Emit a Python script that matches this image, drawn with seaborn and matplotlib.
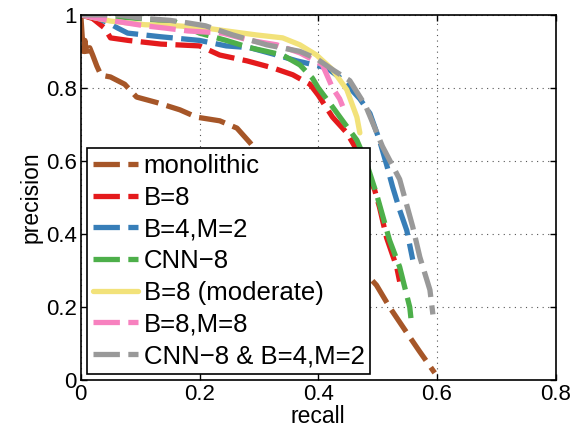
import matplotlib
matplotlib.use("Agg")
import matplotlib.pyplot as plt
import seaborn as sns

# precision / recall
mono_r = [0.0, 0.002, 0.004, 0.007, 0.01, 0.015, 0.02, 0.027, 0.034, 0.05, 0.074, 0.094, 0.128, 0.167,
          0.195, 0.234, 0.263, 0.285, 0.32, 0.36, 0.40, 0.44, 0.47, 0.498, 0.52, 0.549, 0.57, 0.596]
mono_p = [1.0, 0.95, 0.90, 0.93, 0.89, 0.91, 0.89, 0.86, 0.835, 0.83, 0.81, 0.775, 0.76, 0.74,
          0.72, 0.71, 0.69, 0.65, 0.58, 0.50, 0.43, 0.36, 0.31, 0.26, 0.20, 0.13, 0.08, 0.02]

b8_r = [0.0, 0.02, 0.04, 0.05, 0.08, 0.135, 0.2, 0.234, 0.28, 0.323, 0.357, 0.386, 0.40, 0.424,
        0.448, 0.465, 0.48, 0.495, 0.503, 0.515, 0.532, 0.537]
b8_p = [1.0, 0.99, 0.964, 0.937, 0.93, 0.92, 0.915, 0.89, 0.874, 0.855, 0.836, 0.81, 0.78, 0.72,
        0.677, 0.63, 0.58, 0.52, 0.474, 0.39, 0.31, 0.27]

b4m2_r = [0.0, 0.03, 0.05, 0.062, 0.079, 0.135, 0.2, 0.245, 0.285, 0.33, 0.364, 0.414, 0.435,
          0.453, 0.47, 0.487, 0.503, 0.515, 0.525, 0.537, 0.549, 0.559]
b4m2_p = [1.0, 0.99, 0.975, 0.964, 0.95, 0.94, 0.93, 0.915, 0.91, 0.89, 0.874, 0.855, 0.83,
          0.80, 0.77, 0.73, 0.657, 0.59, 0.53, 0.466, 0.41, 0.33]

cnn_r = [0.0, 0.1, 0.16, 0.2, 0.245, 0.285, 0.313, 0.34, 0.369, 0.39, 0.40, 0.424, 0.441, 0.465,
         0.48, 0.498, 0.52, 0.537, 0.554, 0.556]
cnn_p = [1.0, 0.99, 0.98, 0.95, 0.93, 0.91, 0.90, 0.89, 0.863, 0.827, 0.80, 0.748, 0.71, 0.657,
         0.60, 0.51, 0.383, 0.31, 0.20, 0.17]

mod_r = [0.0, 0.029, 0.05, 0.108, 0.163, 0.21, 0.25, 0.296, 0.34, 0.369, 0.397, 0.424, 0.448,
         0.465, 0.47]
mod_p = [1.0, 0.99, 0.983, 0.973, 0.97, 0.964, 0.955, 0.945, 0.937, 0.918, 0.89, 0.85, 0.795,
         0.72, 0.677]

b8m8_r = [0.0, 0.03, 0.057, 0.108, 0.141, 0.18, 0.239, 0.285, 0.33, 0.369, 0.407, 0.424, 0.436, 0.441]
b8m8_p = [1.0, 0.99, 0.983, 0.97, 0.964, 0.956, 0.95, 0.93, 0.918, 0.896, 0.863, 0.80, 0.77, 0.75]

comb_r = [0.0, 0.06, 0.108, 0.15, 0.18, 0.21, 0.256, 0.313, 0.369, 0.397, 0.424, 0.453, 0.48,
          0.508, 0.537, 0.559, 0.571, 0.588, 0.593]
comb_p = [1.0, 1.0, 0.99, 0.985, 0.978, 0.97, 0.945, 0.918, 0.90, 0.88, 0.85, 0.82, 0.75,
          0.64, 0.55, 0.42, 0.337, 0.247, 0.18]

labels = ["monolithic", "B=8", "B=4,M=2", "CNN\u22128", "B=8 (moderate)", "B=8,M=8",
          "CNN\u22128 & B=4,M=2"]
colors = ["#a65628", "#e41a1c", "#377eb8", "#4daf4a", "#f2e27a", "#f781bf", "#999999"]
curves = [(mono_r, mono_p), (b8_r, b8_p), (b4m2_r, b4m2_p), (cnn_r, cnn_p),
          (mod_r, mod_p), (b8m8_r, b8m8_p), (comb_r, comb_p)]

sns.set_style("ticks")
plt.rcParams['font.family'] = ['Liberation Sans', 'DejaVu Sans']
plt.rcParams.update({"text.color": "black", "axes.labelcolor": "black",
                     "xtick.color": "black", "ytick.color": "black"})

fig = plt.figure(figsize=(5.73, 4.37), dpi=100)
ax = fig.add_axes([0.141, 0.130, 0.829, 0.836])

for (r, p), lab, col in zip(curves, labels, colors):
    ls = "-" if lab == "B=8 (moderate)" else (0, (5, 1.6))
    sns.lineplot(x=r, y=p, sort=False, ax=ax, color=col, lw=3.8, linestyle=ls, label=lab)

ax.set_xlim(0, 0.8)
ax.set_ylim(0, 1)
ax.set_xticks([0, 0.2, 0.4, 0.6, 0.8])
ax.set_yticks([0, 0.2, 0.4, 0.6, 0.8, 1])
ax.set_xticklabels(["0", "0.2", "0.4", "0.6", "0.8"])
ax.set_yticklabels(["0", "0.2", "0.4", "0.6", "0.8", "1"])
ax.grid(True, ls=(0, (1, 4)), color="#555555", lw=0.8)
ax.tick_params(direction="in", top=True, right=True, labelsize=16, length=4, width=1, pad=3)
for s in ax.spines.values():
    s.set_color("black")
    s.set_linewidth(1.2)
ax.set_xlabel("recall", fontsize=16.5, labelpad=0)
ax.set_ylabel("precision", fontsize=16.5, labelpad=2)

leg = ax.legend(loc="lower left", fontsize=18.5, handlelength=1.75, handletextpad=0.23,
                labelspacing=0.3, borderaxespad=0.25, borderpad=0.22, fancybox=False,
                framealpha=1, edgecolor="black")
leg.get_frame().set_linewidth(1.2)

fig.savefig("out.png", dpi=100)
